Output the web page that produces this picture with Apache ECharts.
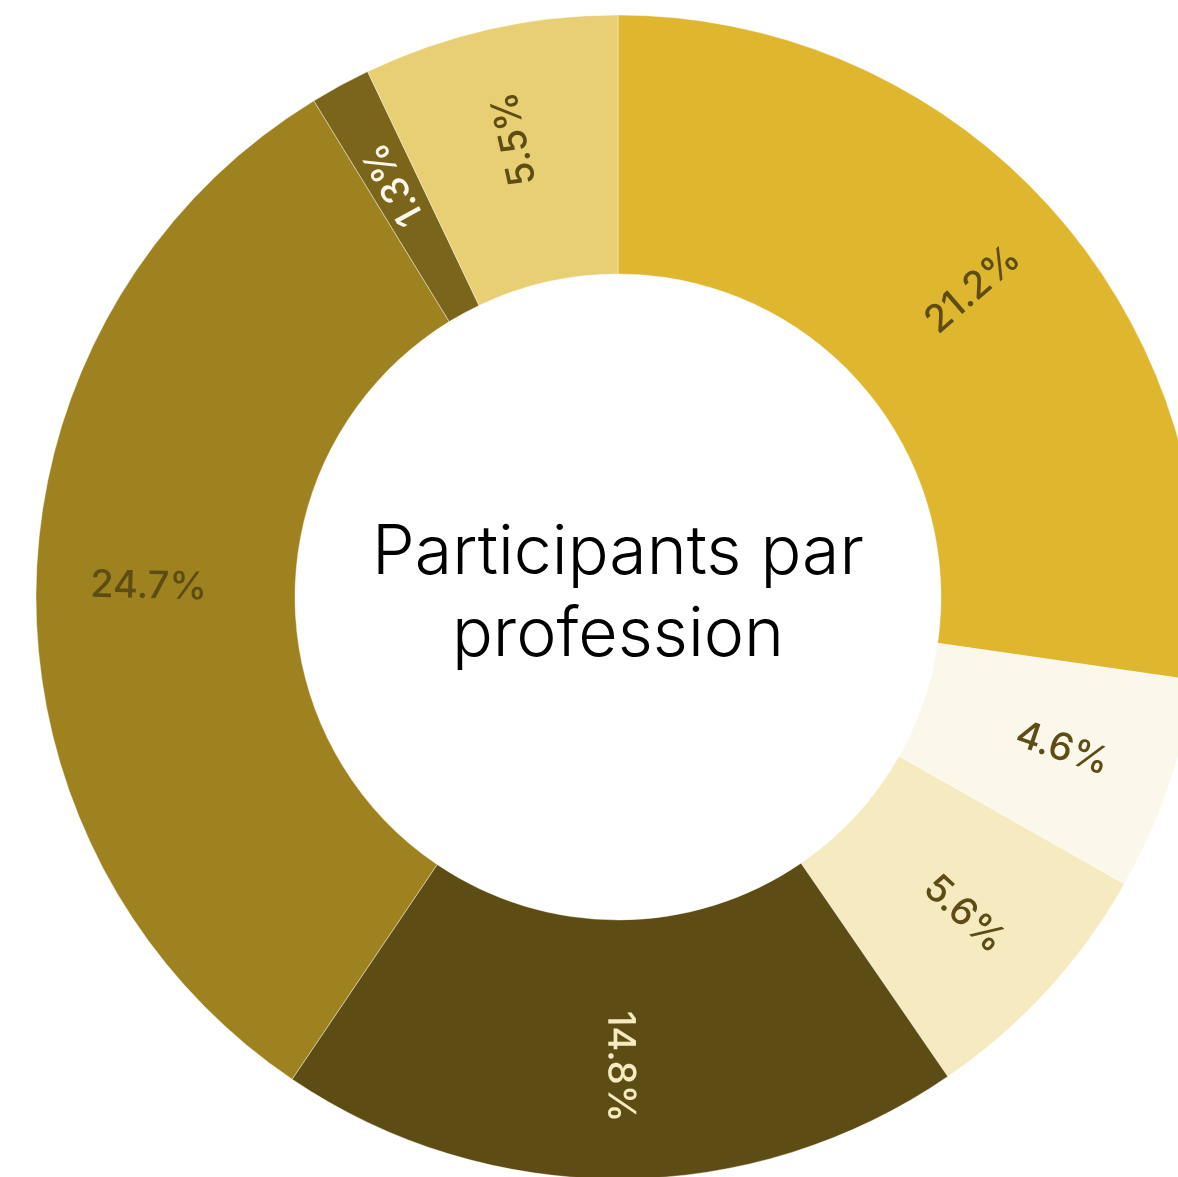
<!DOCTYPE html>
<html>
<head>
<meta charset="utf-8">
<script src="https://cdn.jsdelivr.net/npm/echarts@6/dist/echarts.min.js"></script>
<style>
  html, body { margin: 0; padding: 0; background: #fff; }
  #chart { width: 1178px; height: 1177px; }
</style>
</head>
<body>
<div id="chart"></div>
<script>
// slices clockwise from 12 o'clock
const shares = [21.2, 4.6, 5.6, 14.8, 24.7, 1.3, 5.5];
const sliceColors = ['#DFB72E', '#FBF7EA', '#F5EAC0', '#5E4C15', '#9F8220', '#7B651A', '#E8CF74'];
const labelColors = ['#5E4C15', '#5E4C15', '#5E4C15', '#F5EAC0', '#5E4C15', '#FBF7EA', '#5E4C15'];
const centerTitle = ['Participants par', 'profession'];

const total = shares.reduce((a, b) => a + b, 0);
// radial label rotation, flipped when the slice sits on the left
let acc = 0;
const rotations = shares.map((v) => {
  const mid = 90 - ((acc + v / 2) / total) * 360;
  acc += v;
  let a = ((mid % 360) + 360) % 360;
  if (a > 120 && a < 240) a -= 180;
  if (a > 180) a -= 360;
  return a;
});

const chart = echarts.init(document.getElementById('chart'));
const center = [618, 597];

const option = {
  animation: false,
  graphic: [
    {
      type: 'text',
      x: center[0],
      y: center[1] - 2,
      silent: true,
      style: {
        text: centerTitle.join('\n'),
        fill: '#000',
        font: '300 68px Inter',
        lineHeight: 82,
        align: 'center',
        verticalAlign: 'middle',
      },
    },
  ],
  series: [
    {
      type: 'pie',
      radius: [323, 582],
      center: center,
      startAngle: 90,
      clockwise: true,
      silent: true,
      label: { show: false },
      labelLine: { show: false },
      itemStyle: { borderColor: 'rgba(255,255,255,0.4)', borderWidth: 1 },
      data: shares.map((v, i) => ({ value: v, itemStyle: { color: sliceColors[i] } })),
    },
    {
      // transparent copy, only used to place the labels a bit further out
      type: 'pie',
      radius: [351, 582],
      center: center,
      startAngle: 90,
      clockwise: true,
      silent: true,
      itemStyle: { color: 'rgba(0,0,0,0)', borderWidth: 0 },
      labelLine: { show: false },
      label: {
        show: true,
        position: 'inside',
        formatter: '{c}%',
        fontFamily: 'Inter',
        fontSize: 38,
        fontWeight: 500,
      },
      data: shares.map((v, i) => ({
        value: v,
        label: { color: labelColors[i], rotate: rotations[i] },
      })),
    },
  ],
};

chart.setOption(option);
</script>
</body>
</html>
